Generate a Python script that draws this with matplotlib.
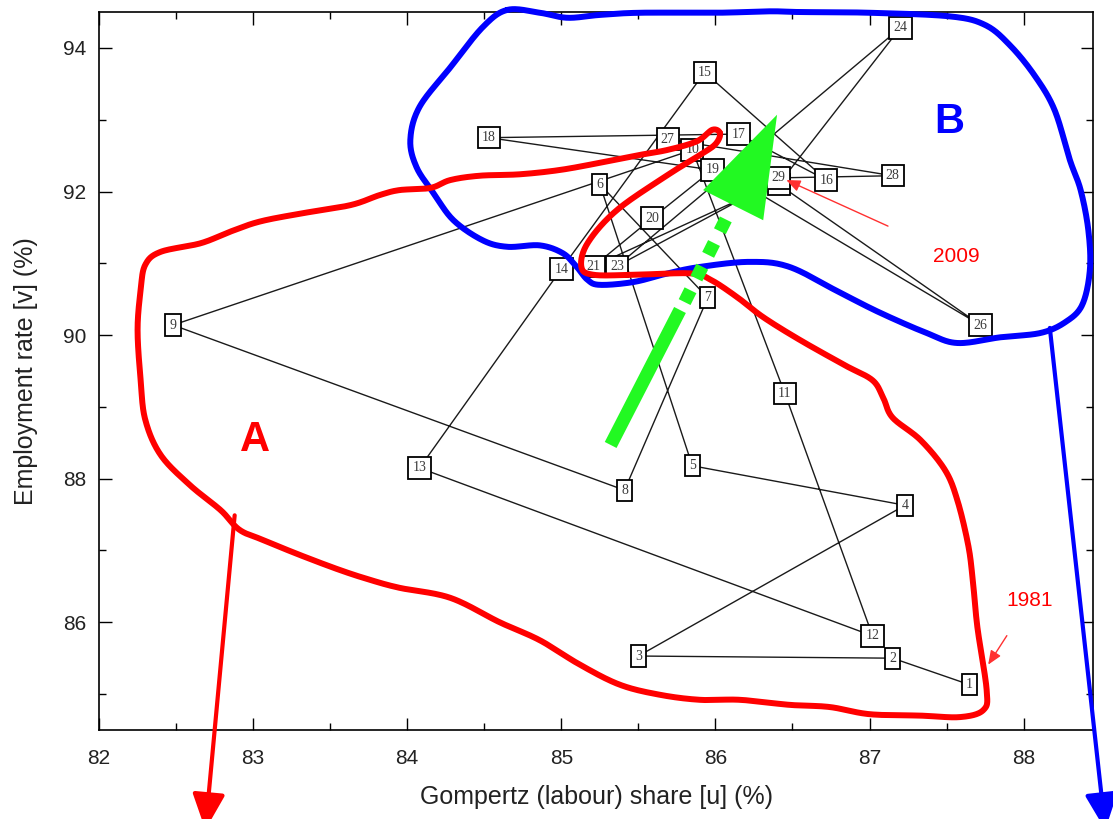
import numpy as np
import matplotlib
matplotlib.use("Agg")
import matplotlib.pyplot as plt
from matplotlib.patches import Polygon

# Yearly observations 1981-2009, numbered 1..29
labels = [str(i) for i in range(1, 30)]
labour_share = [87.65, 87.15, 85.50, 87.23, 85.85, 85.25, 85.95, 85.41, 82.48, 85.85,
                86.45, 87.02, 84.08, 85.00, 85.93, 86.72, 86.15, 84.53, 85.98, 85.59,
                85.21, 86.22, 85.36, 87.20, 86.41, 87.72, 85.69, 87.15, 86.41]
employment = [85.13, 85.50, 85.53, 87.63, 88.18, 92.10, 90.52, 87.84, 90.14, 92.58,
              89.19, 85.81, 88.15, 90.92, 93.66, 92.16, 92.80, 92.75, 92.30, 91.63,
              90.96, 91.95, 90.96, 94.28, 92.10, 90.14, 92.73, 92.22, 92.19]

x_ticks = [82, 83, 84, 85, 86, 87, 88]
y_ticks = [86, 88, 90, 92, 94]

# Hand-drawn regime outlines (data units)
regime_a = [(86.03, 92.81), (86.00, 92.66), (85.90, 92.51), (85.69, 92.23), (85.36, 91.74),
            (85.17, 91.28), (85.13, 90.95), (85.21, 90.84), (85.47, 90.84), (85.84, 90.86),
            (85.97, 90.77), (86.14, 90.53), (86.31, 90.25), (86.55, 89.93), (86.84, 89.58),
            (87.02, 89.37), (87.09, 89.12), (87.15, 88.85), (87.33, 88.54), (87.49, 88.12),
            (87.57, 87.70), (87.64, 87.08), (87.67, 86.59), (87.70, 85.93), (87.76, 85.06),
            (87.74, 84.78), (87.59, 84.68), (87.33, 84.70), (87.00, 84.72), (86.74, 84.82),
            (86.48, 84.85), (86.16, 84.92), (85.90, 84.92), (85.64, 84.99), (85.38, 85.13),
            (85.12, 85.41), (84.86, 85.75), (84.60, 86.00), (84.28, 86.34), (83.95, 86.48),
            (83.76, 86.59), (83.56, 86.73), (83.30, 86.94), (83.06, 87.15), (82.91, 87.29),
            (82.79, 87.56), (82.59, 87.91), (82.40, 88.33), (82.30, 88.82), (82.27, 89.37),
            (82.25, 90.07), (82.27, 90.63), (82.30, 90.98), (82.40, 91.16), (82.66, 91.28),
            (82.85, 91.44), (83.04, 91.58), (83.30, 91.69), (83.63, 91.81), (83.82, 91.95),
            (83.95, 92.02), (84.15, 92.05), (84.28, 92.16), (84.47, 92.22), (84.73, 92.24),
            (84.99, 92.30), (85.25, 92.40), (85.51, 92.51), (85.69, 92.58), (85.88, 92.70),
            (85.98, 92.86)]
regime_b = [(84.65, 94.53), (84.86, 94.49), (85.04, 94.42), (85.25, 94.46), (85.51, 94.49),
            (86.01, 94.49), (86.35, 94.51), (86.55, 94.50), (87.00, 94.49), (87.52, 94.44),
            (87.75, 94.32), (87.91, 94.04), (88.07, 93.62), (88.20, 93.14), (88.30, 92.44),
            (88.37, 92.02), (88.42, 91.46), (88.43, 90.91), (88.38, 90.42), (88.27, 90.18),
            (88.11, 90.03), (87.85, 89.97), (87.57, 89.89), (87.37, 90.03), (87.07, 90.31),
            (86.81, 90.59), (86.48, 90.95), (86.22, 91.02), (85.90, 90.95), (85.69, 90.86),
            (85.47, 90.74), (85.25, 90.70), (85.17, 90.77), (85.10, 90.95), (85.01, 91.14),
            (84.86, 91.25), (84.65, 91.23), (84.49, 91.32), (84.30, 91.60), (84.17, 91.98),
            (84.06, 92.34), (84.02, 92.72), (84.08, 93.18), (84.28, 93.73), (84.49, 94.29)]

RED = "#ff0000"
BLUE = "#0000ff"
GREEN = "#22f922"


def closed_spline(pts, n=24):
    """Closed Catmull-Rom curve through the given points."""
    p = np.asarray(pts, float)
    m = len(p)
    out = []
    t = np.linspace(0, 1, n, endpoint=False)[:, None]
    for i in range(m):
        p0, p1, p2, p3 = p[i - 1], p[i], p[(i + 1) % m], p[(i + 2) % m]
        out.append(0.5 * ((2 * p1) + (-p0 + p2) * t
                          + (2 * p0 - 5 * p1 + 4 * p2 - p3) * t ** 2
                          + (-p0 + 3 * p1 - 3 * p2 + p3) * t ** 3))
    out = np.vstack(out)
    return np.vstack([out, out[:1]])


fig = plt.figure(figsize=(11.13, 8.19), dpi=100)
ax = fig.add_axes([0.089, 0.1087, 0.893, 0.8766])
ax.set_xlim(82, 88.45)
ax.set_ylim(84.5, 94.5)

# Trajectory
ax.plot(labour_share, employment, color="#1a1a1a", lw=1.0, zorder=2)
for lab, x, y in zip(labels, labour_share, employment):
    ax.text(x, y, lab, ha="center", va="center", fontsize=10,
            family="Liberation Serif", color="#3a3a3a", zorder=3,
            bbox=dict(boxstyle="square,pad=0.3", fc="white", ec="black", lw=1.3))

# Axes styling
ax.set_xticks(x_ticks)
ax.set_xticks(np.arange(82.5, 88.5, 1.0), minor=True)
ax.set_yticks(y_ticks)
ax.set_yticks(np.arange(85, 95, 2), minor=True)
ax.tick_params(which="both", direction="in", top=True, right=True, width=1.0,
               labelsize=15)
ax.tick_params(axis="x", pad=14)
ax.tick_params(axis="y", pad=9)
ax.tick_params(which="major", length=9)
ax.tick_params(which="minor", length=5)
for lbl in ax.get_xticklabels() + ax.get_yticklabels():
    lbl.set_family("Liberation Sans")
    lbl.set_color("#222222")
for sp in ax.spines.values():
    sp.set_linewidth(1.2)
ax.set_xlabel("Gompertz (labour) share [u] (%)", fontsize=18,
              family="Liberation Sans", color="#222222", labelpad=12)
ax.set_ylabel("Employment rate [v] (%)", fontsize=18,
              family="Liberation Sans", color="#222222", labelpad=18)

# Regime outlines
ca = closed_spline(regime_a)
cb = closed_spline(regime_b)
ax.plot(cb[:, 0], cb[:, 1], color=BLUE, lw=4.3, clip_on=False, zorder=5,
        solid_capstyle="round")
ax.plot(ca[:, 0], ca[:, 1], color=RED, lw=4.3, clip_on=False, zorder=6,
        solid_capstyle="round")

# Arrows leaving each region
ax.annotate("", xy=(82.69, 83.11), xytext=(82.88, 87.49), annotation_clip=False,
            arrowprops=dict(arrowstyle="-|>,head_length=1.1,head_width=0.5",
                            color=RED, lw=3, mutation_scale=20, shrinkA=0, shrinkB=0),
            zorder=6)
ax.annotate("", xy=(88.53, 83.11), xytext=(88.17, 90.10), annotation_clip=False,
            arrowprops=dict(arrowstyle="-|>,head_length=1.1,head_width=0.5",
                            color=BLUE, lw=3, mutation_scale=20, shrinkA=0, shrinkB=0),
            zorder=5)

# Transition arrow from A to B
ax.plot([85.32, 85.77], [88.47, 90.35], color=GREEN, lw=9.5, solid_capstyle="butt",
        zorder=7)
ax.plot([85.80, 86.09], [90.46, 91.71], color=GREEN, lw=9.5, linestyle=(0, (1, 1)),
        dash_capstyle="butt", zorder=7)
ax.add_patch(Polygon([(86.40, 93.07), (85.92, 92.02), (86.31, 91.60)], closed=True,
                     fc=GREEN, ec="none", zorder=7))

# Region letters and year notes
ax.text(83.01, 88.54, "A", color=RED, fontsize=30, fontweight="bold",
        family="Liberation Sans", ha="center", va="center", zorder=8)
ax.text(87.52, 92.97, "B", color=BLUE, fontsize=30, fontweight="bold",
        family="Liberation Sans", ha="center", va="center", zorder=8)
ax.annotate("2009", xy=(86.46, 92.16), xytext=(87.56, 91.09), color=RED, fontsize=15,
            family="Liberation Sans", ha="center", va="center", zorder=8,
            arrowprops=dict(arrowstyle="-|>,head_length=0.6,head_width=0.25",
                            color="#ff3030", lw=1.0, mutation_scale=14,
                            shrinkA=33, shrinkB=0))
ax.annotate("1981", xy=(87.77, 85.41), xytext=(88.04, 86.31), color=RED, fontsize=15,
            family="Liberation Sans", ha="center", va="center", zorder=8,
            annotation_clip=False,
            arrowprops=dict(arrowstyle="-|>,head_length=0.6,head_width=0.25",
                            color="#ff3030", lw=1.0, mutation_scale=14,
                            shrinkA=20, shrinkB=0))

fig.savefig("out.png", dpi=100)
